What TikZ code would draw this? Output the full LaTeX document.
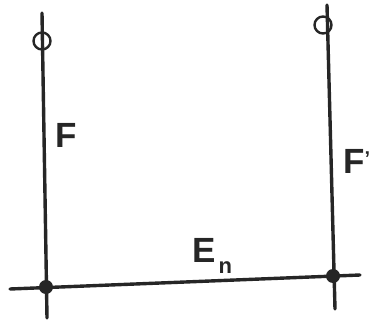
\documentclass[tikz,border=0pt]{standalone}
\usepackage{fontspec}
\setmainfont{Liberation Sans}
\begin{document}
\begin{tikzpicture}[x=1pt,y=-1pt,
  ln/.style={line width=3.4pt,line cap=round,black!85},
  ring/.style={circle,draw=black!85,line width=2.4pt,minimum size=17pt,inner sep=0pt},
  dot/.style={circle,fill=black!85,minimum size=14pt,inner sep=0pt},
  lbl/.style={font=\fontsize{35}{35}\selectfont\bfseries,text=black!85,inner sep=0pt}]
\useasboundingbox (0,0) rectangle (371,320);
\coordinate (lt) at (42,13);
\coordinate (lb) at (47,318);
\coordinate (rt) at (327,5);
\coordinate (rb) at (335,309);
\coordinate (hl) at (10,289);
\coordinate (hr) at (360,275);
\draw[ln] (lt) -- (lb);
\draw[ln] (rt) -- (rb);
\draw[ln] (hl) -- (hr);
\node[ring] (r1) at (42,41) {};
\node[ring] (r2) at (323,25) {};
\node[dot] (d1) at (46,287) {};
\node[dot] (d2) at (333,276) {};
\node[lbl,anchor=north west] (F) at (55,123) {F};
\node[lbl,anchor=north west] (Fp) at (343,149) {F\raisebox{8pt}{\fontsize{20}{20}\selectfont '}};
\node[lbl,anchor=north west] (E) at (192,238) {E\hspace{3pt}\raisebox{-11pt}{\fontsize{22}{22}\selectfont n}};
\end{tikzpicture}
\end{document}
